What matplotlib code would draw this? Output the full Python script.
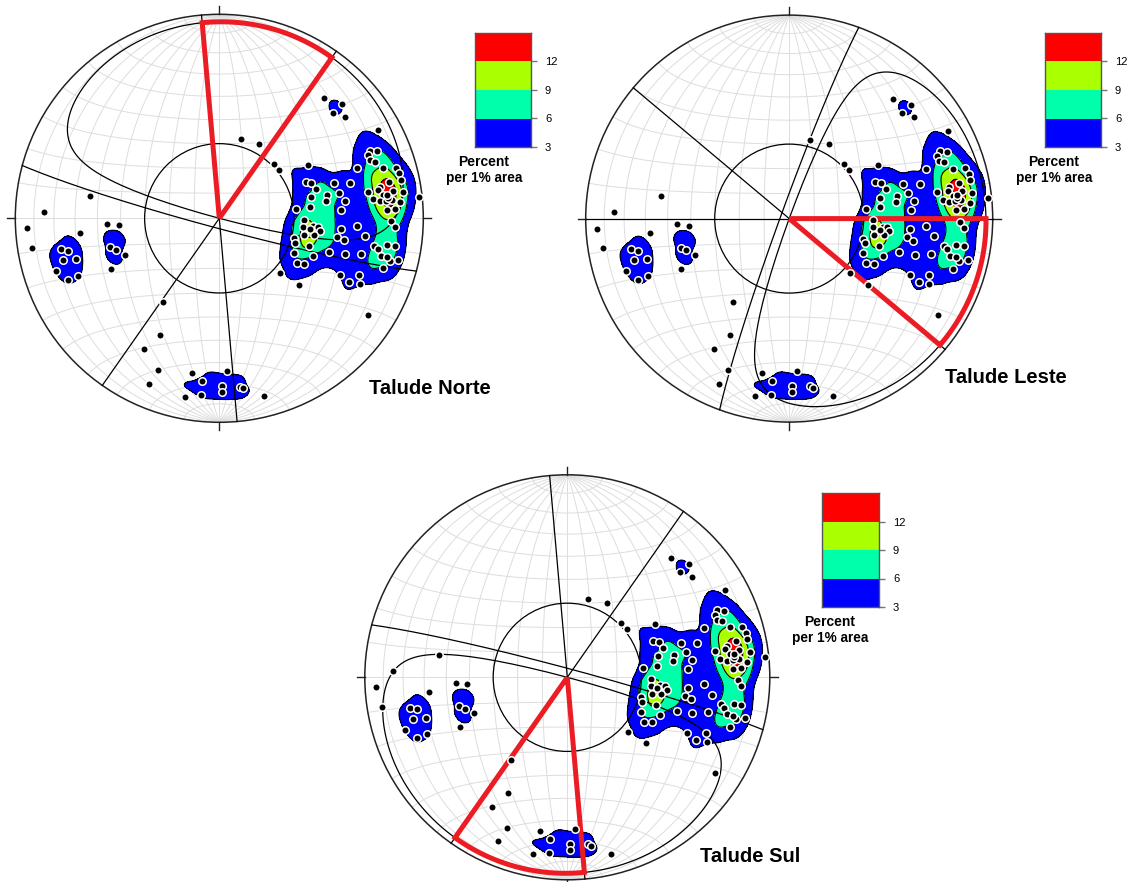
import numpy as np
import matplotlib.pyplot as plt
from matplotlib.patches import Circle

plt.rcParams['font.family'] = ['Liberation Sans', 'DejaVu Sans']

# poles to discontinuities (trend, plunge in degrees) - one data set for all slopes
pole_trend = [
    67, 69, 73, 73, 75, 78, 78, 77, 81, 82, 86, 83, 83, 91, 96, 95, 95, 97, 95, 93,
    101, 100, 105, 108, 107, 99, 100, 97, 107, 106, 104, 115, 112, 120, 118, 115, 112, 116, 115, 132,
    130, 59, 97,
    66, 67, 67, 69, 70, 73, 74, 76, 78, 78, 79, 80, 80, 82, 81, 82, 84, 83, 84, 84,
    84, 85, 87, 87, 91, 93, 100, 101, 99, 99, 103, 104, 107, 103, 83, 82, 103,
    41, 47, 47, 51,
    15, 28, 45, 51, 70, 61, 123,
    280, 272, 267, 261, 264, 267, 266, 255, 253, 249, 245,
    259, 258, 255, 254, 252, 248, 248,
    214, 207, 210, 202, 203, 190, 177, 186, 186, 179, 179, 173, 172, 191, 166,
]
pole_plunge = [
    52, 50, 49, 41, 34, 45, 40, 52, 46, 38, 40, 53, 59, 56, 56, 52, 50, 49, 40, 33,
    55, 51, 59, 58, 52, 41, 38, 29, 43, 36, 29, 57, 49, 54, 51, 35, 27, 30, 25, 57,
    48, 48, 53,
    20, 17, 22, 22, 20, 17, 11, 10, 10, 16, 21, 27, 22, 20, 15, 10, 2, 25, 22, 19,
    16, 12, 19, 15, 17, 15, 24, 22, 18, 14, 20, 15, 17, 11, 18, 18, 17,
    23, 19, 25, 22,
    57, 56, 59, 59, 29, 12, 14,
    36, 15, 6, 8, 32, 44, 49, 44, 46, 49, 41,
    22, 25, 22, 28, 17, 26, 21,
    49, 36, 27, 21, 13, 24, 26, 21, 14, 19, 16, 18, 17, 12, 11,
]

# slope faces
slope_names = ['Talude Norte', 'Talude Leste', 'Talude Sul']
slope_dipdir = [195, 290, 15]
slope_dip = [86, 86.5, 86.5]
friction_angle = 30
lateral_limit = 20

# density contours (percent of poles per 1% area)
levels = [3, 6, 9, 12]
level_colors = ['#0000ff', '#00ffaa', '#aaff00', '#ff0000']

W, H = 1135, 882
RED = '#ec1c24'
GRID = '#dddddd'


def line_vec(trend, plunge):
    t = np.radians(trend)
    p = np.radians(plunge)
    return np.cos(p) * np.sin(t), np.cos(p) * np.cos(t), np.sin(p)


def project(e, n, d):
    # Lambert equal-area, lower hemisphere
    k = 1.0 / np.sqrt(1.0 + d)
    return e * k, n * k


def plane_xy(dipdir, dip, num=361):
    s = np.linspace(0, np.pi, num)
    st = np.radians(dipdir - 90)
    strike = np.array([np.sin(st), np.cos(st), 0.0])
    dv = np.array(line_vec(dipdir, dip))
    v = np.outer(np.cos(s), strike) + np.outer(np.sin(s), dv)
    return project(v[:, 0], v[:, 1], np.clip(v[:, 2], 0, 1))


def envelope(dipdir, dip, a0=-90, a1=90, num=361):
    # poles of planes daylighting on the slope face
    a = np.linspace(a0, a1, num)
    app = np.degrees(np.arctan(np.tan(np.radians(dip)) * np.cos(np.radians(a))))
    return project(*line_vec(dipdir + a + 180, 90 - app))


def draw_grid(ax):
    s = np.linspace(0, np.pi, 181)
    for g in np.radians(np.arange(10, 180, 10)):
        e, n, d = np.cos(g) * np.sin(s), np.cos(s), np.sin(g) * np.sin(s)
        ax.plot(*project(e, n, d), color=GRID, lw=0.7, zorder=1)
        e, n, d = np.sin(g) * np.cos(s), np.cos(g) * np.ones_like(s), np.sin(g) * np.sin(s)
        ax.plot(*project(e, n, d), color=GRID, lw=0.7, zorder=1)


# pole count inside a (soft edged) counting circle covering 1% of the hemisphere
pe, pn, pd = line_vec(np.array(pole_trend), np.array(pole_plunge))
P = np.stack([pe, pn, pd], 1)
xs = np.linspace(-1.02, 1.02, 321)
X, Y = np.meshgrid(xs, xs)
rho = np.sqrt(X ** 2 + Y ** 2)
scale = np.where(rho > 1, 1 / np.maximum(rho, 1e-9), 1.0)
Xc, Yc = X * scale, Y * scale
r2 = Xc ** 2 + Yc ** 2
k = np.sqrt(2 - r2)
G = np.stack([Xc * k, Yc * k, 1 - r2], -1)
ang = np.arccos(np.clip(np.abs(G @ P.T), 0, 1))
count_radius = np.arccos(0.99)
dens = 100.0 / len(P) * (1.0 / (1.0 + (ang / count_radius) ** 6)).sum(-1)

px, py = project(pe, pn, pd)


def stereonet(cx, cy, r, dipdir, dip):
    pad = 1.08
    ax = fig.add_axes([(cx - pad * r) / W, 1 - (cy + pad * r) / H, 2 * pad * r / W, 2 * pad * r / H])
    ax.set_xlim(-pad, pad)
    ax.set_ylim(-pad, pad)
    ax.set_aspect('equal')
    ax.axis('off')

    draw_grid(ax)
    rim = Circle((0, 0), 1, transform=ax.transData)
    cf = ax.contourf(X, Y, dens, levels=levels + [1000], colors=level_colors, zorder=2)
    cf.set_clip_path(rim)
    cl = ax.contour(X, Y, dens, levels=levels, colors='k', linewidths=0.8, zorder=3)
    cl.set_clip_path(rim)

    ax.add_patch(Circle((0, 0), 1, fill=False, ec='#222222', lw=1.1, zorder=4))
    for t in np.radians([0, 90, 180, 270]):
        ax.plot([np.sin(t), 1.04 * np.sin(t)], [np.cos(t), 1.04 * np.cos(t)], color='#222222', lw=1, zorder=4)

    # friction cone
    fr = np.sqrt(2) * np.sin(np.radians(friction_angle) / 2)
    ax.add_patch(Circle((0, 0), fr, fill=False, ec='k', lw=0.9, zorder=4))
    # slope face, lateral limits and daylight envelope
    ax.plot(*plane_xy(dipdir, dip), color='k', lw=0.9, zorder=4)
    for lim in (-lateral_limit, lateral_limit):
        ax.plot(*plane_xy(dipdir + lim + 90, 90), color='k', lw=0.9, zorder=4)
    ax.plot(*envelope(dipdir, dip), color='k', lw=0.9, zorder=4)

    # critical zone
    ex, ey = envelope(dipdir, dip, -lateral_limit, lateral_limit, 81)
    ax.plot(np.r_[0, ex, 0], np.r_[0, ey, 0], color=RED, lw=3.6, zorder=5,
            solid_joinstyle='miter', solid_capstyle='butt')

    ax.plot(px, py, 'o', ms=5.4, mfc='black', mec='white', mew=1.1, zorder=6)
    return ax


def colorbar(x0, y0, x1, y1, tx):
    ax = fig.add_axes([x0 / W, 1 - y1 / H, (x1 - x0) / W, (y1 - y0) / H])
    for lv, col in zip(levels, level_colors):
        ax.bar(0.5, 3, bottom=lv, width=1, color=col)
    ax.set_xlim(0, 1)
    ax.set_ylim(3, 15)
    ax.set_xticks([])
    ax.yaxis.tick_right()
    ax.set_yticks(levels)
    ax.tick_params(axis='y', length=4, width=1, color='#777777', labelsize=8, pad=6)
    for sp in ax.spines.values():
        sp.set_color('#555555')
        sp.set_linewidth(1)
    fig.text(tx / W, 1 - (y1 + 15) / H, 'Percent', ha='center', va='center', fontsize=10, fontweight='bold')
    fig.text(tx / W, 1 - (y1 + 31) / H, 'per 1% area', ha='center', va='center', fontsize=9.8, fontweight='bold')


fig = plt.figure(figsize=(W / 100, H / 100), dpi=100)

centers = [(219.3, 218.3, 204), (789.2, 218.6, 203.5), (567.3, 677.3, 202.5)]
for (cx, cy, r), dd, dp in zip(centers, slope_dipdir, slope_dip):
    stereonet(cx, cy, r, dd, dp)

colorbar(475, 33, 531, 147, 484)
colorbar(1045, 33, 1101, 147, 1054)
colorbar(822, 493, 879, 607, 830)

title_pos = [(369, 388), (945, 377), (700, 856)]
for name, (tx, ty) in zip(slope_names, title_pos):
    fig.text(tx / W, 1 - ty / H, name, ha='left', va='center', fontsize=14.5, fontweight='bold')

fig.savefig('out.png', dpi=100)
